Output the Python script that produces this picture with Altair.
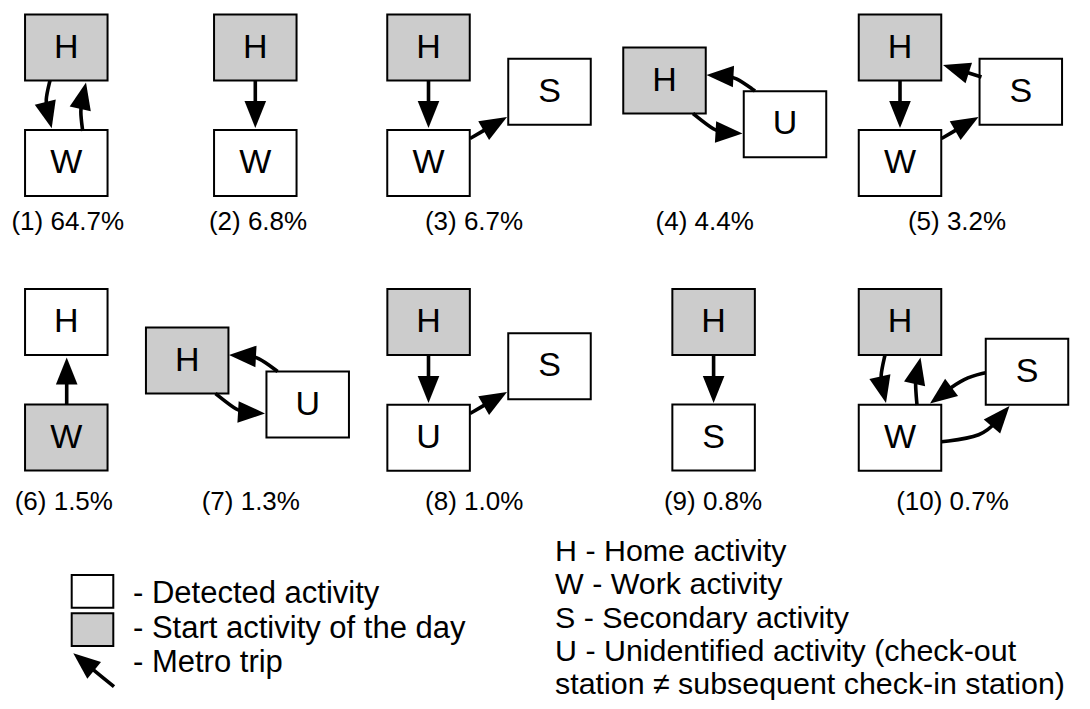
import altair as alt
import pandas as pd
import numpy as np

FONT = "Liberation Sans, Arial, Helvetica, sans-serif"

# ---- activity boxes (centres in picture coordinates) ----
box_cx = [66.3, 66.3, 255.3, 255.3, 428.5, 428.5, 549.5, 664.5, 785.0, 900.0, 900.0, 1020.8,
          66.3, 66.3, 187.2, 307.7, 428.6, 428.6, 549.5, 713.6, 713.6, 900.0, 900.0, 1027.0]
box_cy = [47.5, 163.0, 47.5, 163.0, 47.5, 163.0, 91.7, 80.5, 124.2, 47.5, 163.0, 91.7,
          322.0, 437.5, 360.5, 404.5, 322.0, 437.7, 366.2, 322.0, 437.5, 322.0, 437.8, 371.7]
box_letter = ["H", "W", "H", "W", "H", "W", "S", "H", "U", "H", "W", "S",
              "H", "W", "H", "U", "H", "U", "S", "H", "S", "H", "W", "S"]
box_start = [1, 0, 1, 0, 1, 0, 0, 1, 0, 1, 0, 0,
             0, 1, 1, 0, 1, 0, 0, 1, 0, 1, 0, 0]

# ---- metro trips: tail, control (None = straight), tip ----
arrow_tail = [(50, 80.5), (82.7, 131), (255.3, 81), (428.5, 81), (470, 138.5),
              (755, 91), (693, 113.5), (900, 81), (941.5, 138.5), (981.5, 77),
              (66.7, 404.5), (277.6, 371.5), (215.5, 393.5), (428.5, 355), (470, 413.5),
              (713.6, 355), (885, 355), (917, 405), (985.7, 372.7), (941.5, 441.7),
              (114, 686.7)]
arrow_ctrl = [(45, 101), (80, 110), None, None, None,
              (735, 76.5), (716, 132), None, None, None,
              None, (257.6, 356.5), (238.5, 412), None, None,
              None, (880, 377), (915, 382), (964, 378), (983, 437),
              None]
arrow_tip = [(51.7, 128.3), (86, 82.5), (255.3, 128), (428.5, 128), (507, 117),
             (706.5, 75), (742.5, 133.5), (900, 128), (978.5, 117), (943, 65),
             (66.7, 357.5), (229, 355), (265, 413.5), (428.5, 403), (507, 392),
             (713.6, 403), (886, 403), (920.5, 357.5), (930, 403.5), (1009.5, 406),
             (73.3, 653.3)]

# ---- pattern captions ----
label_text = ["(1) 64.7%", "(2) 6.8%", "(3) 6.7%", "(4) 4.4%", "(5) 3.2%",
              "(6) 1.5%", "(7) 1.3%", "(8) 1.0%", "(9) 0.8%", "(10) 0.7%"]
label_x = [67.8, 258.0, 474.0, 704.7, 957.0, 63.8, 250.8, 474.2, 713.0, 952.5]
label_y = [230] * 5 + [510] * 5

# ---- legend ----
legend_box_cx = [92.5, 92.5]
legend_box_cy = [591.3, 629.7]
legend_box_kind = ["detected", "start"]
legend_left_text = ["- Detected activity", "- Start activity of the day", "- Metro trip"]
legend_left_y = [602.7, 638.3, 672.0]
legend_right_text = ["H - Home activity", "W - Work activity", "S - Secondary activity",
                     "U - Unidentified activity (check-out",
                     "station \u2260 subsequent check-in station)"]
legend_right_y = [560.5, 594, 627.5, 661, 694]

# ---------------- build tables ----------------
BW, BH = 82.5, 66.0
LBW, LBH = 41.6, 32.7
rects = pd.DataFrame({
    "cx": box_cx + legend_box_cx,
    "cy": box_cy + legend_box_cy,
    "w": [BW] * len(box_cx) + [LBW] * 2,
    "h": [BH] * len(box_cx) + [LBH] * 2,
    "kind": ["start" if s else "detected" for s in box_start] + legend_box_kind,
})
rects["x1"] = rects.cx - rects.w / 2
rects["x2"] = rects.cx + rects.w / 2
rects["y1"] = rects.cy - rects.h / 2
rects["y2"] = rects.cy + rects.h / 2

letters = pd.DataFrame({"x": box_cx, "y": box_cy, "t": box_letter})

line_rows, head_rows = [], []
for i, (t, c, p) in enumerate(zip(arrow_tail, arrow_ctrl, arrow_tip)):
    t = np.array(t, float)
    p = np.array(p, float)
    c = (t + p) / 2 if c is None else np.array(c, float)
    d = p - c
    u = d / np.hypot(*d)
    e = p - 17 * u
    for k, q in enumerate([t, c, e]):
        line_rows.append({"a": i, "k": k, "x": q[0], "y": q[1]})
    ang = np.degrees(np.arctan2(d[0], -d[1])) % 360
    head_rows.append({"x": p[0], "y": p[1], "ang": float(ang)})
lines = pd.DataFrame(line_rows)
heads = pd.DataFrame(head_rows)

labels = pd.DataFrame({"x": label_x, "y": label_y, "t": label_text})
leg_left = pd.DataFrame({"x": [133.0] * 3, "y": legend_left_y, "t": legend_left_text})
leg_right = pd.DataFrame({"x": [555.0] * 5, "y": legend_right_y, "t": legend_right_text})

xs = alt.Scale(domain=[8, 1082], nice=False, zero=False)
ys = alt.Scale(domain=[8, 701], nice=False, zero=False, reverse=True)


def X(f):
    return alt.X(f, type="quantitative", scale=xs, axis=None)


def Y(f):
    return alt.Y(f, type="quantitative", scale=ys, axis=None)


rect_layer = alt.Chart(rects).mark_rect(stroke="black", strokeWidth=2).encode(
    x=X("x1"), x2="x2", y=Y("y1"), y2="y2",
    fill=alt.Fill("kind:N", scale=alt.Scale(domain=["start", "detected"],
                                             range=["#cccccc", "#ffffff"]), legend=None),
)

line_layer = alt.Chart(lines).mark_line(interpolate="basis", strokeWidth=3.6,
                                        color="black", strokeCap="butt").encode(
    x=X("x"), y=Y("y"), detail="a:N", order="k:Q",
)

head_layer = alt.Chart(heads).mark_point(
    shape="M0,0L-0.8,2L0.8,2Z", filled=True, color="black", opacity=1,
    size=729, strokeWidth=0,
).encode(x=X("x"), y=Y("y"), angle=alt.Angle("ang:Q", scale=None))

letter_layer = alt.Chart(letters).mark_text(
    font=FONT, fontSize=34, align="center", baseline="middle", color="black"
).encode(x=X("x"), y=Y("y"), text="t:N")

label_layer = alt.Chart(labels).mark_text(
    font=FONT, fontSize=26, align="center", baseline="alphabetic", color="black"
).encode(x=X("x"), y=Y("y"), text="t:N")

legl_layer = alt.Chart(leg_left).mark_text(
    font=FONT, fontSize=31, align="left", baseline="alphabetic", color="black"
).encode(x=X("x"), y=Y("y"), text="t:N")

legr_layer = alt.Chart(leg_right).mark_text(
    font=FONT, fontSize=30.4, align="left", baseline="alphabetic", color="black"
).encode(x=X("x"), y=Y("y"), text="t:N")

chart = alt.layer(
    rect_layer, line_layer, head_layer, letter_layer, label_layer, legl_layer, legr_layer
).properties(
    width=1074, height=693, padding=0,
    autosize=alt.AutoSizeParams(type="none"),
    background="white",
).configure_view(stroke=None)

chart.save("out.html", embed_options={"renderer": "svg", "actions": False})
